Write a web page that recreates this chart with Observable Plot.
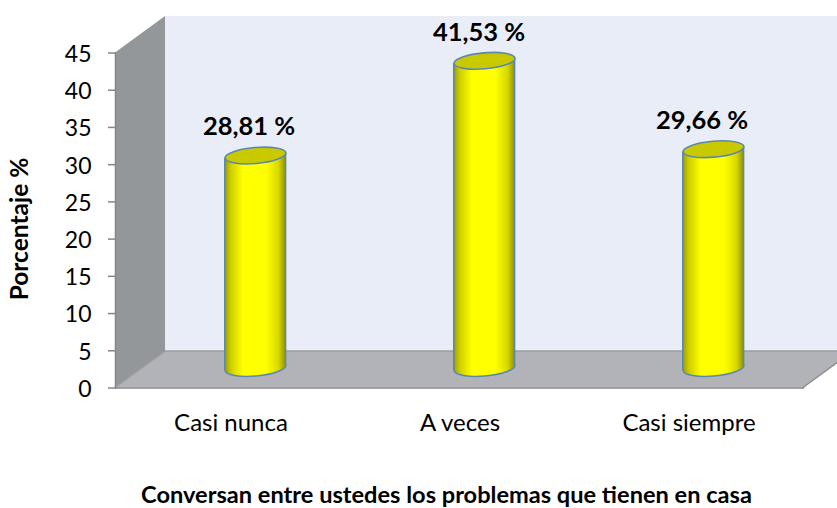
<!DOCTYPE html>
<html>
<head>
<meta charset="utf-8">
<style>html,body{margin:0;padding:0;background:#fff}svg{display:block}</style>
<script src="https://cdn.jsdelivr.net/npm/d3@7"></script>
<script src="https://cdn.jsdelivr.net/npm/@observablehq/plot@0.6"></script>
</head>
<body>
<div id="chart"></div>
<script>
const categories = ["Casi nunca", "A veces", "Casi siempre"];
const percentages = [28.81, 41.53, 29.66];
const valueLabels = ["28,81 %", "41,53 %", "29,66 %"];
const yTicks = [0, 5, 10, 15, 20, 25, 30, 35, 40, 45];
const yLabel = "Porcentaje %";
const xTitle = "Conversan entre ustedes los problemas que tienen en casa";

const rows = categories.map((c, i) => ({category: c, value: percentages[i], label: valueLabels[i]}));

// 3D look
const depthX = 50, depthY = 36.5;
const cylDx = 24.5, cylDyTop = -18, cylDyBase = -20, cylR = 30.5, cylRy = 8;
const labelDx = [18, 19, 13];
const font = "Lato, Carlito, sans-serif";
const cylStroke = "#5c88b0";

const tilt = -5 * Math.PI / 180;
const ellipseSymbol = {
  draw(ctx, size) {
    const rx = Math.sqrt(size / Math.PI), ry = rx * cylRy / cylR;
    const k = 0.5523;
    const cos = Math.cos(tilt), sin = Math.sin(tilt);
    const P = (x, y) => [x * cos - y * sin, x * sin + y * cos];
    ctx.moveTo(...P(rx, 0));
    ctx.bezierCurveTo(...P(rx, k * ry), ...P(k * rx, ry), ...P(0, ry));
    ctx.bezierCurveTo(...P(-k * rx, ry), ...P(-rx, k * ry), ...P(-rx, 0));
    ctx.bezierCurveTo(...P(-rx, -k * ry), ...P(-k * rx, -ry), ...P(0, -ry));
    ctx.bezierCurveTo(...P(k * rx, -ry), ...P(rx, -k * ry), ...P(rx, 0));
    ctx.closePath();
  }
};

function chrome(index, scales, values, dims) {
  const x0 = dims.marginLeft, x1 = dims.width - dims.marginRight;
  const y0 = scales.y(0), yT = scales.y(45);
  const g = d3.create("svg:g");
  const defs = g.append("defs");
  const grad = defs.append("linearGradient").attr("id", "cyl").attr("x1", 0).attr("x2", 1).attr("y1", 0).attr("y2", 0);
  [[0, "#9c9c00"], [0.1, "#cfcf00"], [0.3, "#ffff00"], [0.68, "#ffff00"], [0.88, "#d8d800"], [1, "#939300"]]
    .forEach(([o, c]) => grad.append("stop").attr("offset", o).attr("stop-color", c));
  const poly = (pts, fill) => g.append("polygon").attr("points", pts.map(p => p.join(",")).join(" ")).attr("fill", fill);
  poly([[x0 + depthX, yT - depthY], [x1 + depthX, yT - depthY], [x1 + depthX, y0 - depthY], [x0 + depthX, y0 - depthY]], "#e9edf8");
  poly([[x0, yT], [x0 + depthX, yT - depthY], [x0 + depthX, y0 - depthY], [x0, y0]], "#94979a");
  poly([[x0, y0], [x0 + depthX, y0 - depthY], [x1 + depthX, y0 - depthY], [x1, y0]], "#b1b3b8");
  const line = (a, b, s, w) => g.append("line").attr("x1", a[0]).attr("y1", a[1]).attr("x2", b[0]).attr("y2", b[1]).attr("stroke", s).attr("stroke-width", w);
  line([x0 + depthX, y0 - depthY], [x1 + depthX, y0 - depthY], "#9c9c9c", 1.5);
  line([x0, y0], [x0 + depthX, y0 - depthY], "#9a9c9f", 1.5);
  line([x1, y0], [x1 + depthX, y0 - depthY], "#8c8c8c", 1.5);
  return g.node();
}

// Cylinder body, tilted at its ends to meet the tilted ellipses.
function cylinderBodies(index, scales, values, dims) {
  const band = (dims.width - dims.marginLeft - dims.marginRight) / categories.length;
  const ex = cylR * Math.cos(tilt), ey = cylR * Math.sin(tilt);
  const g = d3.create("svg:g");
  for (const r of rows) {
    const cx = scales.x(r.category) + band / 2 + cylDx;
    const yTop = scales.y(r.value) + cylDyTop, yBase = scales.y(0) + cylDyBase;
    const L = [cx - ex, yTop - ey], R = [cx + ex, yTop + ey];
    const LB = [cx - ex, yBase - ey], RB = [cx + ex, yBase + ey];
    g.append("polygon").attr("points", [L, R, RB, LB].map(p => p.join(",")).join(" ")).attr("fill", "url(#cyl)");
    for (const [a, b] of [[L, LB], [R, RB]]) {
      g.append("line").attr("x1", a[0]).attr("y1", a[1]).attr("x2", b[0]).attr("y2", b[1])
        .attr("stroke", cylStroke).attr("stroke-width", 1.6);
    }
  }
  return g.node();
}

const plot = Plot.plot({
  width: 837,
  height: 508,
  marginLeft: 115,
  marginRight: 34,
  marginTop: 52.5,
  marginBottom: 120.5,
  style: {fontFamily: font, background: "#fff", overflow: "hidden"},
  x: {type: "band", domain: categories, padding: 0, align: 0.5},
  y: {domain: [0, 45]},
  marks: [
    chrome,
    Plot.dot(rows, {x: "category", y: () => 0, r: cylR, symbol: ellipseSymbol, fill: "url(#cyl)", stroke: cylStroke, strokeWidth: 1.6, dx: cylDx, dy: cylDyBase}),
    cylinderBodies,
    Plot.dot(rows, {x: "category", y: "value", r: cylR, symbol: ellipseSymbol, fill: "#c9c900", stroke: cylStroke, strokeWidth: 1.6, dx: cylDx, dy: cylDyTop}),
    Plot.frame({anchor: "left", stroke: "#868686", strokeWidth: 1.5}),
    Plot.frame({anchor: "bottom", stroke: "#868686", strokeWidth: 1.5}),
    Plot.axisY({ticks: yTicks, tickSize: 7, text: null, label: null, stroke: "#868686", strokeWidth: 1.5}),
    Plot.axisY({ticks: yTicks, tickSize: 0, tickPadding: 24, label: null, fontSize: 23, fill: "#000", dy: 1.5}),
    Plot.axisX({tickSize: 0, tickPadding: 26, label: null, fontSize: 24, fill: "#000", lineAnchor: "top"}),
    ...rows.map((r, i) => Plot.text([r], {x: "category", y: "value", text: "label", dx: labelDx[i], dy: -46.5, fontSize: 25.5, fontWeight: 700, fill: "#000"})),
    Plot.text([yLabel], {frameAnchor: "left", textAnchor: "middle", rotate: -90, dx: -95, dy: 8.5, fontSize: 24.5, fontWeight: 700, fill: "#000"}),
    Plot.text([xTitle], {frameAnchor: "bottom", textAnchor: "middle", dx: -13, dy: 115, fontSize: 23.6, fontWeight: 700, fill: "#000"})
  ]
});
document.getElementById("chart").appendChild(plot);
</script>
</body>
</html>
